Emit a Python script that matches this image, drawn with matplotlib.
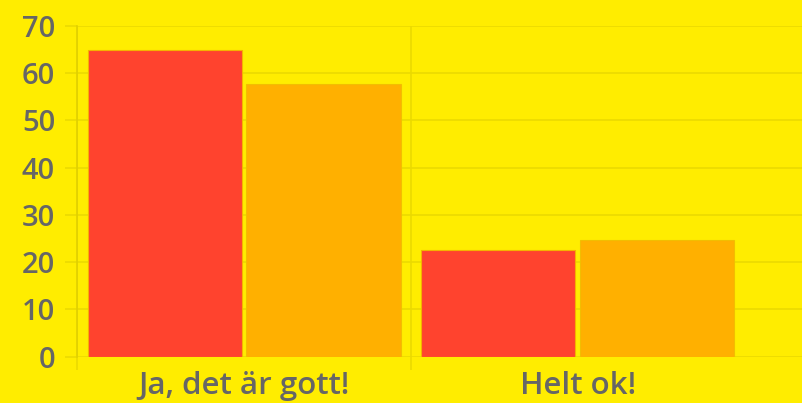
import numpy as np
import matplotlib.pyplot as plt

plt.rcParams['font.family'] = ['Open Sans', 'DejaVu Sans']

categories = ["Ja, det är gott!", "Helt ok!"]
series_a = [65, 22.5]
series_b = [57.7, 24.7]
y_ticks = [0, 10, 20, 30, 40, 50, 60, 70]

bg = '#FFED00'
grid_col = '#EBDA00'
axis_col = '#E0D000'
text_col = '#666666'

fig = plt.figure(figsize=(8.02, 4.03), dpi=100, facecolor=bg)
ax = fig.add_axes([0.0964, 0.1149, 0.9036, 0.8206], facecolor=bg)

x = np.arange(len(categories))
w = 0.462
ax.bar(x - 0.238, series_a, width=w, color='#FF432E', edgecolor='#F5B300', linewidth=0.8, zorder=3)
ax.bar(x + 0.238, series_b, width=w, color='#FFB000', edgecolor='#F2BE00', linewidth=0.8, zorder=3)

ax.set_xlim(-0.5, 1.672)
ax.set_ylim(0, 70)
ax.set_yticks(y_ticks)
ax.set_yticklabels([str(v) for v in y_ticks])
ax.grid(axis='y', color=grid_col, linewidth=1.2, zorder=0)

# category boundaries as minor ticks / vertical grid
ax.set_xticks(x)
ax.set_xticklabels(categories)
ax.set_xticks([-0.5, 0.5], minor=True)
ax.grid(axis='x', which='minor', color=grid_col, linewidth=1.2, zorder=0)
ax.tick_params(axis='x', which='major', length=0, pad=10)
ax.tick_params(axis='x', which='minor', length=9, color=grid_col, width=1.2)
ax.tick_params(axis='y', length=9, color=grid_col, width=1.2, pad=7)

for lab in ax.get_yticklabels():
    lab.set_color(text_col)
    lab.set_fontsize(21)
    lab.set_fontweight('semibold')
for lab in ax.get_xticklabels():
    lab.set_color(text_col)
    lab.set_fontsize(22.5)
    lab.set_fontweight('semibold')

for s in ['top', 'right', 'bottom']:
    ax.spines[s].set_visible(False)
ax.spines['left'].set_color(axis_col)
ax.spines['left'].set_linewidth(1.2)

fig.savefig('out.png', dpi=100, facecolor=bg)
